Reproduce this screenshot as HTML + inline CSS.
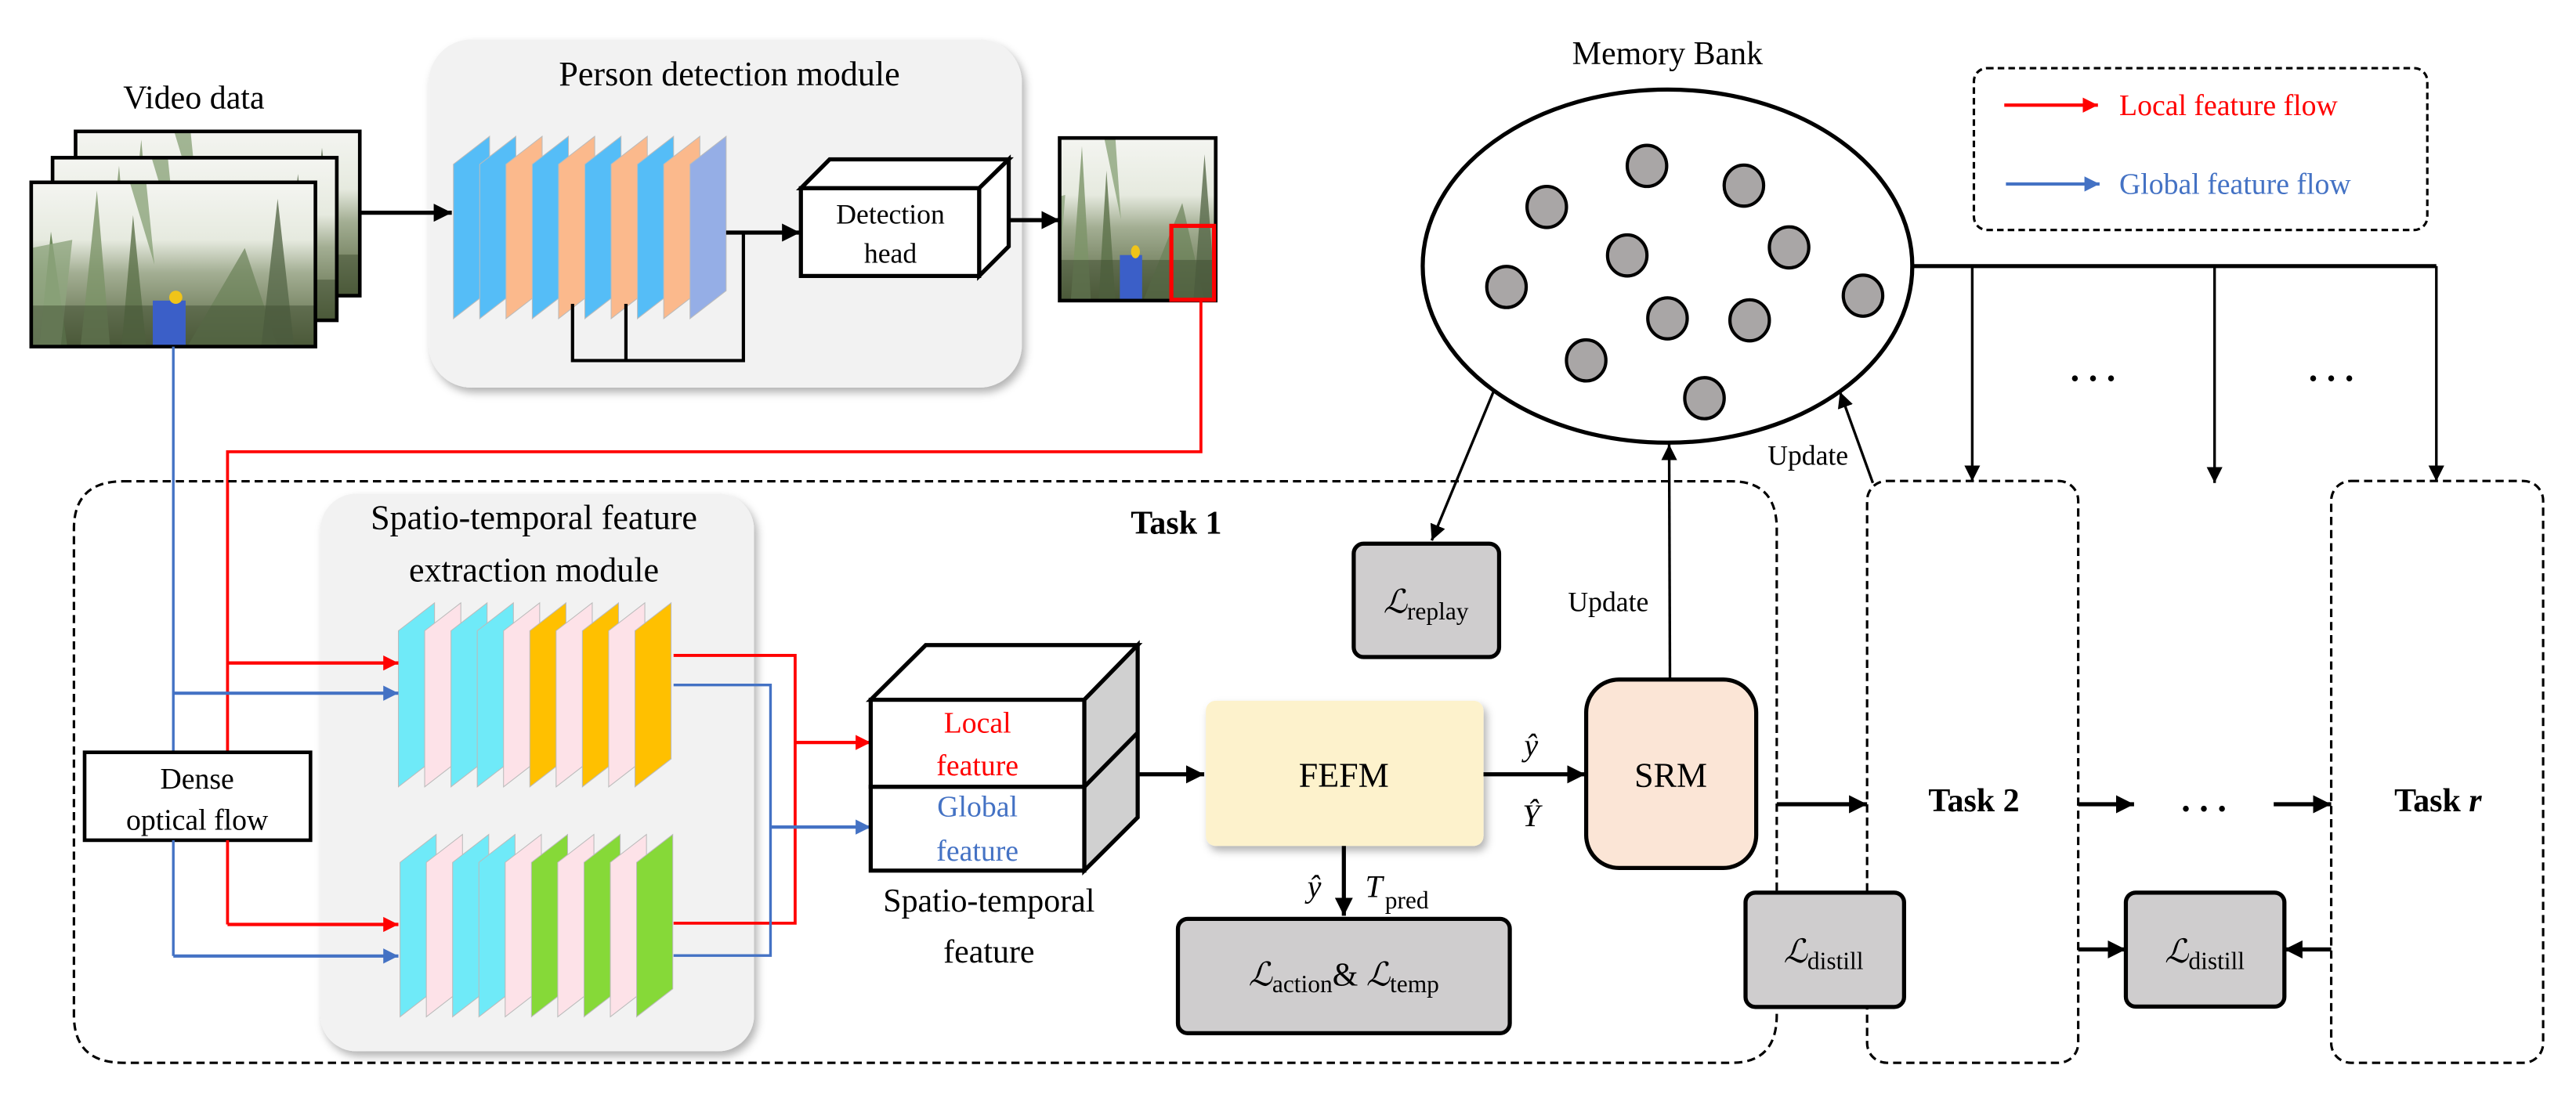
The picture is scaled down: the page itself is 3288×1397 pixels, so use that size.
<!DOCTYPE html>
<html><head><meta charset="utf-8"><style>
html,body{margin:0;padding:0;background:#fff;}
svg{display:block;font-family:"Liberation Serif","Times New Roman",serif;}
svg text{font-family:"Liberation Serif","Times New Roman",serif;}
</style></head><body>
<svg width="3288" height="1397" viewBox="0 0 1568 666" preserveAspectRatio="none" xmlns="http://www.w3.org/2000/svg" font-family="Liberation Serif, serif">
<defs>
<marker id="ak" viewBox="0 0 10 10" refX="10" refY="5" markerWidth="4.4" markerHeight="4.4" orient="auto" markerUnits="strokeWidth"><path d="M0,0L10,5L0,10z" fill="#000"/></marker>
<marker id="ak2" viewBox="0 0 10 10" refX="10" refY="5" markerWidth="6" markerHeight="7" orient="auto" markerUnits="strokeWidth"><path d="M0,0L10,5L0,10z" fill="#000"/></marker>
<marker id="ar" viewBox="0 0 10 10" refX="10" refY="5" markerWidth="4.6" markerHeight="5" orient="auto" markerUnits="strokeWidth"><path d="M0,0L10,5L0,10z" fill="#f00"/></marker>
<marker id="ab" viewBox="0 0 10 10" refX="10" refY="5" markerWidth="4.6" markerHeight="5" orient="auto" markerUnits="strokeWidth"><path d="M0,0L10,5L0,10z" fill="#4472C4"/></marker>
<linearGradient id="sky" x1="0" y1="0" x2="0" y2="1">
<stop offset="0" stop-color="#f4f5f1"/><stop offset="0.35" stop-color="#e6eadf"/><stop offset="0.55" stop-color="#a3ae93"/><stop offset="1" stop-color="#56643f"/></linearGradient>
<filter id="sh" x="-10%" y="-10%" width="125%" height="125%"><feDropShadow dx="2" dy="3" stdDeviation="2.5" flood-color="#000" flood-opacity="0.3"/></filter>
<g id="photo">
<rect x="0" y="0" width="173" height="100" fill="url(#sky)"/>
<path d="M5,100 L12,30 L22,100z" fill="#6f8a5c"/>
<path d="M30,100 L40,5 L48,100z" fill="#7c9468" opacity="0.8"/>
<path d="M0,40 L25,35 L18,100 L0,100z" fill="#8fa57e" opacity="0.8"/>
<path d="M55,100 L62,20 L70,100z" fill="#5b7048" opacity="0.8"/>
<path d="M95,100 L130,40 L150,100z" fill="#6b8258" opacity="0.7"/>
<path d="M140,100 L150,10 L160,100z" fill="#57694a" opacity="0.8"/>
<path d="M60,0 L75,50 L70,0z" fill="#7f9a6c" opacity="0.7"/>
<rect x="0" y="75" width="173" height="25" fill="#3f4d32" opacity="0.5"/>
<rect x="74" y="72" width="20" height="28" fill="#3b5fc8"/>
<circle cx="88" cy="70" r="4" fill="#f0c419"/>
</g>
</defs>

<!-- Video data -->
<text x="118" y="66" font-size="20" text-anchor="middle">Video data</text>
<g><svg x="46" y="80" width="173" height="100" viewBox="0 0 173 100"><use href="#photo"/></svg><rect x="46" y="80" width="173" height="100" fill="none" stroke="#000" stroke-width="2.2"/></g>
<g><svg x="32" y="96" width="173" height="99" viewBox="0 0 173 100"><use href="#photo"/></svg><rect x="32" y="96" width="173" height="99" fill="none" stroke="#000" stroke-width="2.2"/></g>
<g><svg x="19" y="111" width="173" height="100" viewBox="0 0 173 100"><use href="#photo"/></svg><rect x="19" y="111" width="173" height="100" fill="none" stroke="#000" stroke-width="2.2"/></g>

<!-- Person detection module -->
<rect x="261" y="24" width="361" height="212" rx="26" fill="#f2f2f2" filter="url(#sh)"/>
<line x1="219" y1="129.5" x2="275" y2="129.5" stroke="#000" stroke-width="2.5" marker-end="url(#ak)"/>
<text x="444" y="52" font-size="21" text-anchor="middle">Person detection module</text>
<g stroke="#bbb" stroke-width="0.5">
<polygon points="276,100 298,83 298,177 276,194" fill="#55BDF7"/>
<polygon points="292,100 314,83 314,177 292,194" fill="#55BDF7"/>
<polygon points="308,100 330,83 330,177 308,194" fill="#FBB98C"/>
<polygon points="324,100 346,83 346,177 324,194" fill="#55BDF7"/>
<polygon points="340,100 362,83 362,177 340,194" fill="#FBB98C"/>
<polygon points="356,100 378,83 378,177 356,194" fill="#55BDF7"/>
<polygon points="372,100 394,83 394,177 372,194" fill="#FBB98C"/>
<polygon points="388,100 410,83 410,177 388,194" fill="#55BDF7"/>
<polygon points="404,100 426,83 426,177 404,194" fill="#FBB98C"/>
<polygon points="420,100 442,83 442,177 420,194" fill="#95AEE6"/>
</g>
<polyline points="348.5,185 348.5,219.5 452.5,219.5 452.5,141.6" fill="none" stroke="#000" stroke-width="2"/>
<line x1="381" y1="185" x2="381" y2="219.5" stroke="#000" stroke-width="2"/>
<line x1="442" y1="141.6" x2="487" y2="141.6" stroke="#000" stroke-width="2.5" marker-end="url(#ak)"/>
<g stroke="#000" stroke-width="2.5" stroke-linejoin="miter">
<polygon points="487.5,114.6 505,97 614,97 596,114.6" fill="#fff"/>
<polygon points="596,114.6 614,97 614,150 596,168" fill="#fff"/>
<rect x="487.5" y="114.6" width="108.5" height="53.4" fill="#fff"/>
</g>
<text x="542" y="136" font-size="17" text-anchor="middle">Detection</text>
<text x="542" y="160" font-size="17" text-anchor="middle">head</text>
<line x1="613" y1="134" x2="645" y2="134" stroke="#000" stroke-width="2.5" marker-end="url(#ak)"/>
<svg x="645" y="84" width="95" height="99" viewBox="20 0 140 100" preserveAspectRatio="none"><use href="#photo"/></svg>
<rect x="645" y="84" width="95" height="99" fill="none" stroke="#000" stroke-width="2.2"/>
<rect x="713" y="137.5" width="26" height="45" fill="none" stroke="#f00" stroke-width="2.5"/>

<!-- red/blue main feeds -->
<polyline points="731,183 731,275 138.5,275 138.5,458" fill="none" stroke="#f00" stroke-width="1.8"/>
<line x1="105.5" y1="211" x2="105.5" y2="458" stroke="#4472C4" stroke-width="1.6"/>

<!-- Memory bank -->
<text x="1015" y="39" font-size="20" text-anchor="middle">Memory Bank</text>
<ellipse cx="1015" cy="162" rx="149" ry="107.5" fill="#fff" stroke="#000" stroke-width="2.5"/>
<g fill="#A9A6A6" stroke="#000" stroke-width="2">
<ellipse cx="1002.5" cy="101" rx="12" ry="12.5"/><ellipse cx="1061.5" cy="113" rx="12" ry="12.5"/>
<ellipse cx="941.5" cy="126" rx="12" ry="12.5"/><ellipse cx="990.5" cy="155.5" rx="12" ry="12.5"/>
<ellipse cx="1089" cy="150.6" rx="12" ry="12.5"/><ellipse cx="917" cy="174.7" rx="12" ry="12.5"/>
<ellipse cx="1134" cy="180" rx="12" ry="12.5"/><ellipse cx="1015" cy="193.8" rx="12" ry="12.5"/>
<ellipse cx="1065" cy="195" rx="12" ry="12.5"/><ellipse cx="965.5" cy="219.4" rx="12" ry="12.5"/>
<ellipse cx="1037.5" cy="242.4" rx="12" ry="12.5"/>
</g>

<!-- Legend -->
<rect x="1201.5" y="41.5" width="276" height="98.5" rx="8" fill="none" stroke="#000" stroke-width="1.5" stroke-dasharray="4,2.5"/>
<line x1="1220" y1="64" x2="1277" y2="64" stroke="#f00" stroke-width="2" marker-end="url(#ar)"/>
<text x="1290" y="70" font-size="18" fill="#f00">Local feature flow</text>
<line x1="1221" y1="112" x2="1278" y2="112" stroke="#4472C4" stroke-width="2" marker-end="url(#ab)"/>
<text x="1290" y="118" font-size="18" fill="#4472C4">Global feature flow</text>

<!-- distribution lines -->
<polyline points="1164,162 1483,162" fill="none" stroke="#000" stroke-width="2.5"/>
<line x1="1200.5" y1="162" x2="1200.5" y2="293" stroke="#000" stroke-width="1.6" marker-end="url(#ak2)"/>
<line x1="1348" y1="162" x2="1348" y2="294" stroke="#000" stroke-width="1.6" marker-end="url(#ak2)"/>
<line x1="1483" y1="162" x2="1483" y2="293" stroke="#000" stroke-width="1.6" marker-end="url(#ak2)"/>
<text x="1274" y="232" font-size="22" font-weight="bold" text-anchor="middle">. . .</text>
<text x="1419" y="232" font-size="22" font-weight="bold" text-anchor="middle">. . .</text>

<!-- Task 1 box -->
<path d="M75,293 L1054,293 Q1081.5,293 1081.5,322 L1081.5,618 Q1081.5,647 1054,647 L75,647 Q45,647 45,618 L45,322 Q45,293 75,293z" fill="none" stroke="#000" stroke-width="1.5" stroke-dasharray="5,3"/>
<text x="716" y="325" font-size="20" font-weight="bold" text-anchor="middle">Task 1</text>

<!-- Spatio-temporal module -->
<rect x="195" y="300.5" width="264" height="339.5" rx="22" fill="#f2f2f2" filter="url(#sh)"/>
<text x="325" y="322" font-size="21" text-anchor="middle">Spatio-temporal feature</text>
<text x="325" y="354" font-size="21" text-anchor="middle">extraction module</text>
<g stroke="#bbb" stroke-width="0.5">
<polygon points="242.5,384 264.5,367 264.5,462 242.5,479" fill="#6FEAF8"/>
<polygon points="258.5,384 280.5,367 280.5,462 258.5,479" fill="#FDE2E8"/>
<polygon points="274.5,384 296.5,367 296.5,462 274.5,479" fill="#6FEAF8"/>
<polygon points="290.5,384 312.5,367 312.5,462 290.5,479" fill="#6FEAF8"/>
<polygon points="306.5,384 328.5,367 328.5,462 306.5,479" fill="#FDE2E8"/>
<polygon points="322.5,384 344.5,367 344.5,462 322.5,479" fill="#FFC000"/>
<polygon points="338.5,384 360.5,367 360.5,462 338.5,479" fill="#FDE2E8"/>
<polygon points="354.5,384 376.5,367 376.5,462 354.5,479" fill="#FFC000"/>
<polygon points="370.5,384 392.5,367 392.5,462 370.5,479" fill="#FDE2E8"/>
<polygon points="386.5,384 408.5,367 408.5,462 386.5,479" fill="#FFC000"/>
<polygon points="243.5,525 265.5,508 265.5,602 243.5,619" fill="#6FEAF8"/>
<polygon points="259.5,525 281.5,508 281.5,602 259.5,619" fill="#FDE2E8"/>
<polygon points="275.5,525 297.5,508 297.5,602 275.5,619" fill="#6FEAF8"/>
<polygon points="291.5,525 313.5,508 313.5,602 291.5,619" fill="#6FEAF8"/>
<polygon points="307.5,525 329.5,508 329.5,602 307.5,619" fill="#FDE2E8"/>
<polygon points="323.5,525 345.5,508 345.5,602 323.5,619" fill="#86D938"/>
<polygon points="339.5,525 361.5,508 361.5,602 339.5,619" fill="#FDE2E8"/>
<polygon points="355.5,525 377.5,508 377.5,602 355.5,619" fill="#86D938"/>
<polygon points="371.5,525 393.5,508 393.5,602 371.5,619" fill="#FDE2E8"/>
<polygon points="387.5,525 409.5,508 409.5,602 387.5,619" fill="#86D938"/>
</g>

<!-- dense optical flow -->
<rect x="51.5" y="458" width="137.5" height="53.5" fill="#fff" stroke="#000" stroke-width="2.2"/>
<text x="120" y="480" font-size="18" text-anchor="middle">Dense</text>
<text x="120" y="505" font-size="18" text-anchor="middle">optical flow</text>
<line x1="105.5" y1="511.5" x2="105.5" y2="582" stroke="#4472C4" stroke-width="1.6"/>
<line x1="138.5" y1="511.5" x2="138.5" y2="562.8" stroke="#f00" stroke-width="1.8"/>
<line x1="138.5" y1="403.6" x2="242.5" y2="403.6" stroke="#f00" stroke-width="2" marker-end="url(#ar)"/>
<line x1="105.5" y1="422" x2="242.5" y2="422" stroke="#4472C4" stroke-width="2" marker-end="url(#ab)"/>
<line x1="138.5" y1="562.8" x2="242.5" y2="562.8" stroke="#f00" stroke-width="2" marker-end="url(#ar)"/>
<line x1="105.5" y1="582" x2="242.5" y2="582" stroke="#4472C4" stroke-width="2" marker-end="url(#ab)"/>

<!-- outputs -->
<polyline points="410,399 484,399 484,562 410,562" fill="none" stroke="#f00" stroke-width="1.8"/>
<polyline points="410,417 469,417 469,581.7 410,581.7" fill="none" stroke="#4472C4" stroke-width="1.6"/>
<line x1="484" y1="452" x2="530" y2="452" stroke="#f00" stroke-width="2" marker-end="url(#ar)"/>
<line x1="469" y1="503.5" x2="530" y2="503.5" stroke="#4472C4" stroke-width="2" marker-end="url(#ab)"/>

<!-- cube -->
<g stroke="#000" stroke-width="2.5">
<polygon points="530,426 563.5,392.7 692.5,392.7 660,426" fill="#fff"/>
<polygon points="660,426 692.5,392.7 692.5,497.6 660,530" fill="#D0D0D0"/>
<line x1="660" y1="479" x2="692.5" y2="446"/>
<rect x="530" y="426" width="130" height="53" fill="#fff"/>
<rect x="530" y="479" width="130" height="51" fill="#fff"/>
</g>
<text x="595" y="446" font-size="18" fill="#f00" text-anchor="middle">Local</text>
<text x="595" y="472" font-size="18" fill="#f00" text-anchor="middle">feature</text>
<text x="595" y="497" font-size="18" fill="#4472C4" text-anchor="middle">Global</text>
<text x="595" y="524" font-size="18" fill="#4472C4" text-anchor="middle">feature</text>
<text x="602" y="555" font-size="20" text-anchor="middle">Spatio-temporal</text>
<text x="602" y="586" font-size="20" text-anchor="middle">feature</text>
<line x1="692.5" y1="471.4" x2="733" y2="471.4" stroke="#000" stroke-width="2.5" marker-end="url(#ak)"/>

<!-- FEFM -->
<rect x="734" y="426.6" width="169" height="88.4" rx="6" fill="#FDF2CC" filter="url(#sh)"/>
<text x="818" y="479" font-size="21" text-anchor="middle">FEFM</text>
<line x1="903" y1="471.4" x2="965" y2="471.4" stroke="#000" stroke-width="2.5" marker-end="url(#ak)"/>
<text x="932" y="460" font-size="19" font-style="italic" text-anchor="middle">ŷ</text>
<text x="932" y="503" font-size="19" font-style="italic" text-anchor="middle">Ŷ</text>
<line x1="818" y1="515" x2="818" y2="557.5" stroke="#000" stroke-width="2.5" marker-end="url(#ak)"/>
<text x="800" y="546" font-size="19" font-style="italic" text-anchor="middle">ŷ</text>
<text x="831" y="546" font-size="19" font-style="italic">T</text><text x="843" y="553" font-size="15">pred</text>
<rect x="717" y="559.4" width="202" height="69.6" rx="6" fill="#CFCDCE" stroke="#000" stroke-width="2.5"/>
<text x="818" y="600" font-size="20" text-anchor="middle"><tspan font-style="italic">ℒ</tspan><tspan font-size="15" dy="4">action</tspan><tspan dy="-4">&amp; </tspan><tspan font-style="italic">ℒ</tspan><tspan font-size="15" dy="4">temp</tspan></text>

<!-- SRM -->
<rect x="965.5" y="413.7" width="103.5" height="114.7" rx="20" fill="#FBE5D6" stroke="#000" stroke-width="2.5"/>
<text x="1017" y="479" font-size="21" text-anchor="middle">SRM</text>
<line x1="1016.5" y1="413.7" x2="1016" y2="270.5" stroke="#000" stroke-width="1.6" marker-end="url(#ak2)"/>
<text x="979" y="372" font-size="17" text-anchor="middle">Update</text>

<!-- L replay -->
<line x1="909" y1="238.6" x2="871.5" y2="329" stroke="#000" stroke-width="1.6" marker-end="url(#ak2)"/>
<rect x="824" y="331" width="88.5" height="69" rx="6" fill="#CFCDCE" stroke="#000" stroke-width="2.5"/>
<text x="868" y="373" font-size="20" text-anchor="middle"><tspan font-style="italic">ℒ</tspan><tspan font-size="15" dy="4">replay</tspan></text>

<!-- Task 2 -->
<rect x="1136.5" y="292.8" width="128.5" height="354.2" rx="12" fill="none" stroke="#000" stroke-width="1.5" stroke-dasharray="5,3"/>
<text x="1201.5" y="494" font-size="20" font-weight="bold" text-anchor="middle">Task 2</text>
<line x1="1081.5" y1="489.6" x2="1136.5" y2="489.6" stroke="#000" stroke-width="2.5" marker-end="url(#ak)"/>
<line x1="1140" y1="294" x2="1120" y2="238.6" stroke="#000" stroke-width="1.6" marker-end="url(#ak2)"/>
<text x="1100.5" y="283" font-size="17" text-anchor="middle">Update</text>
<rect x="1062.5" y="543.4" width="96.5" height="69.6" rx="6" fill="#CFCDCE" stroke="#000" stroke-width="2.5"/>
<text x="1110" y="586" font-size="20" text-anchor="middle"><tspan font-style="italic">ℒ</tspan><tspan font-size="15" dy="4">distill</tspan></text>

<line x1="1265" y1="489.6" x2="1299" y2="489.6" stroke="#000" stroke-width="2.5" marker-end="url(#ak)"/>
<text x="1341.5" y="494" font-size="22" font-weight="bold" text-anchor="middle">. . .</text>
<line x1="1384" y1="489.6" x2="1419" y2="489.6" stroke="#000" stroke-width="2.5" marker-end="url(#ak)"/>

<!-- Task r -->
<rect x="1419" y="292.8" width="129" height="354.2" rx="12" fill="none" stroke="#000" stroke-width="1.5" stroke-dasharray="5,3"/>
<text x="1484" y="494" font-size="20" font-weight="bold" text-anchor="middle">Task <tspan font-style="italic">r</tspan></text>

<rect x="1294" y="543.4" width="96.5" height="69.4" rx="6" fill="#CFCDCE" stroke="#000" stroke-width="2.5"/>
<text x="1342" y="586" font-size="20" text-anchor="middle"><tspan font-style="italic">ℒ</tspan><tspan font-size="15" dy="4">distill</tspan></text>
<line x1="1265" y1="578" x2="1294" y2="578" stroke="#000" stroke-width="2.5" marker-end="url(#ak)"/>
<line x1="1419" y1="578" x2="1390.5" y2="578" stroke="#000" stroke-width="2.5" marker-end="url(#ak)"/>
</svg>
</body></html>
